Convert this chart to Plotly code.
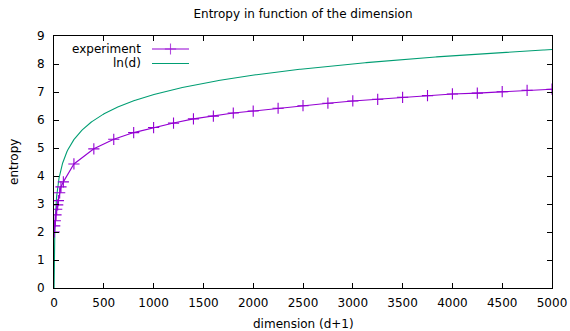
import numpy as np
import plotly.graph_objects as go

# ---- data ----
exp_x = [3, 7, 13, 20, 27, 37, 44, 57, 70, 94,
         200, 400, 600, 800, 1000, 1200, 1400, 1600, 1800, 2000,
         2250, 2500, 2750, 3000, 3250, 3500, 3750, 4000, 4250, 4500, 4750, 5000]
exp_y = [2.00, 2.22, 2.40, 2.61, 2.81, 2.97, 3.12, 3.40, 3.61, 3.79,
         4.43, 4.97, 5.31, 5.55, 5.73, 5.89, 6.04, 6.14, 6.25, 6.32,
         6.42, 6.51, 6.60, 6.68, 6.74, 6.81, 6.87, 6.93, 6.96, 7.01, 7.06, 7.10]

# ln(d) is the plotted function itself (sampled like gnuplot would)
ln_x = np.unique(np.concatenate([np.geomspace(1, 100, 200), np.linspace(100, 5000, 500)]))
ln_y = np.log(ln_x)

title = "Entropy in function of the dimension"
xlabel = "dimension (d+1)"
ylabel = "entropy"
series_names = ["experiment", "ln(d)"]
x_ticks = list(range(0, 5001, 500))
y_ticks = list(range(0, 10))

PURPLE = "#9400D3"
GREEN = "#009E73"
FONT = "DejaVu Sans"

fig = go.Figure()
fig.add_trace(go.Scatter(x=ln_x, y=ln_y, mode="lines",
                         line=dict(color=GREEN, width=1.1), showlegend=False))
fig.add_trace(go.Scatter(x=exp_x, y=exp_y, mode="lines+markers",
                         line=dict(color=PURPLE, width=1.1),
                         marker=dict(symbol="cross-thin", size=8,
                                     line=dict(color=PURPLE, width=1.1)),
                         showlegend=False))

# gnuplot-style key (text right-aligned, sample on the right), in an overlay axis
L, R, T, B = 54, 18, 36, 43
W, H = 570, 331
pw, ph = W - L - R, H - T - B
def px(x):
    return (x - L) / pw
def py(y):
    return (H - B - y) / ph

rows = [(49, series_names[0], PURPLE, True), (63.5, series_names[1], GREEN, False)]
for yy, name, col, mk in rows:
    fig.add_trace(go.Scatter(
        x=[px(152), px(170.5), px(189)], y=[py(yy)] * 3,
        xaxis="x2", yaxis="y2", mode="lines+markers" if mk else "lines",
        line=dict(color=col, width=1.1),
        marker=dict(symbol="cross-thin", size=[0, 8, 0],
                    line=dict(color=col, width=1.1)),
        showlegend=False, hoverinfo="skip"))
    fig.add_annotation(x=px(143), y=py(yy), xref="paper", yref="paper",
                       text=name, showarrow=False, xanchor="right", yanchor="middle",
                       font=dict(family=FONT, size=12, color="black"))

# axis titles placed like gnuplot
fig.add_annotation(x=0.5, y=py(324), xref="paper", yref="paper", text=xlabel,
                   showarrow=False, xanchor="center", yanchor="middle",
                   font=dict(family=FONT, size=12, color="black"))
fig.add_annotation(x=px(14), y=0.5, xref="paper", yref="paper", text=ylabel,
                   showarrow=False, textangle=-90, xanchor="center", yanchor="middle",
                   font=dict(family=FONT, size=12, color="black"))

fig.update_layout(
    width=W, height=H,
    margin=dict(l=L, r=R, t=T, b=B, pad=0, autoexpand=False),
    paper_bgcolor="white", plot_bgcolor="white",
    title=dict(text=title, x=0.5, xref="paper", y=1 - 14 / H, yanchor="middle",
               font=dict(family=FONT, size=12, color="black")),
    font=dict(family=FONT, size=12, color="black"),
    xaxis=dict(range=[0, 5000], tickvals=x_ticks, ticks="inside", ticklen=5,
               tickcolor="black", showline=True, linecolor="black", linewidth=1,
               mirror="ticks", showgrid=False, zeroline=False, automargin=False,
               tickfont=dict(size=12), ticklabelstandoff=4),
    yaxis=dict(range=[0, 9], tickvals=y_ticks, ticks="inside", ticklen=5,
               tickcolor="black", showline=True, linecolor="black", linewidth=1,
               mirror="ticks", showgrid=False, zeroline=False, automargin=False,
               tickfont=dict(size=12), ticklabelstandoff=6),
    xaxis2=dict(range=[0, 1], overlaying="x", visible=False, fixedrange=True),
    yaxis2=dict(range=[0, 1], overlaying="y", visible=False, fixedrange=True),
    showlegend=False,
)

fig.write_html("out.html")
